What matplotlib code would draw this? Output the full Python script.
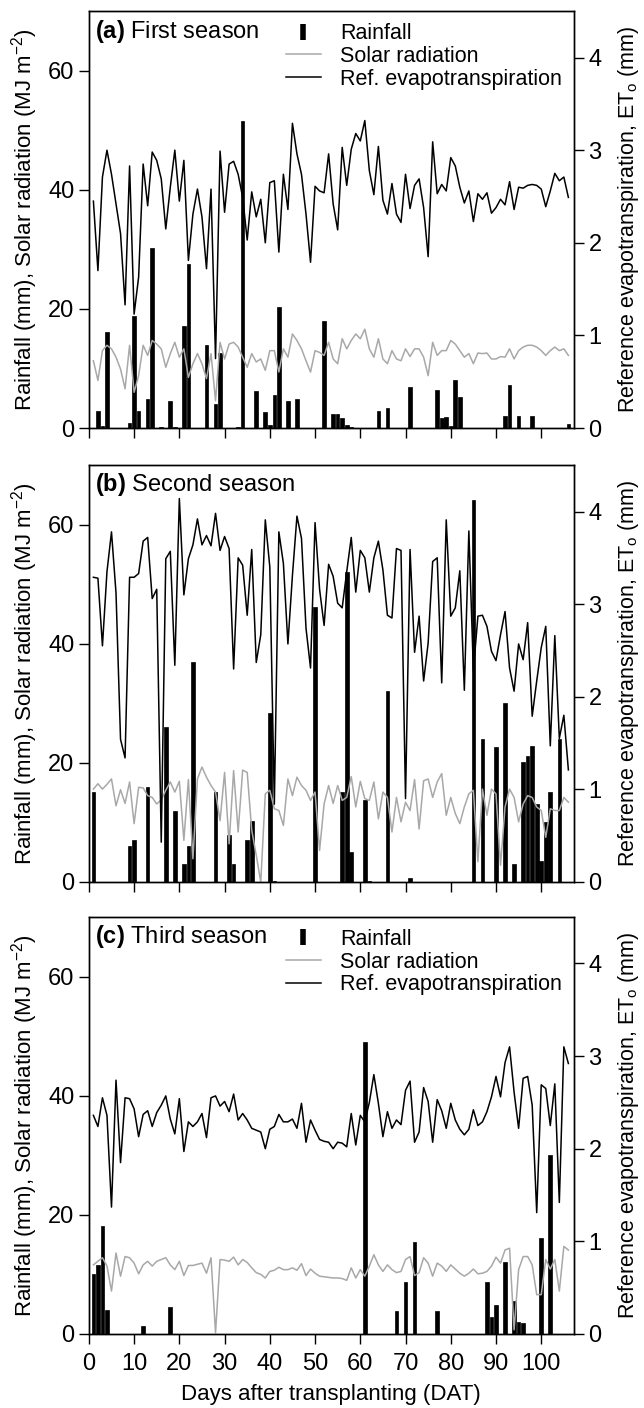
import matplotlib
matplotlib.use('Agg')
from matplotlib import pyplot as plt
from matplotlib.lines import Line2D
import numpy as np

plt.rcParams['font.family'] = ['Liberation Sans', 'DejaVu Sans']
plt.rcParams['mathtext.fontset'] = 'custom'
plt.rcParams['mathtext.rm'] = 'Liberation Sans'
plt.rcParams['mathtext.it'] = 'Liberation Sans:italic'
plt.rcParams['mathtext.bf'] = 'Liberation Sans:bold'

days = np.arange(1, 107)

# first season
et_a = [2.45, 1.70, 2.71, 3.00, 2.74, 2.42, 2.10, 1.33, 2.83, 1.23,
        1.63, 2.85, 2.40, 2.98, 2.89, 2.69, 2.15, 2.60, 3.00, 2.45,
        2.89, 1.81, 2.31, 2.58, 2.28, 1.72, 2.58, 0.75, 2.99, 2.33,
        2.85, 2.88, 2.74, 2.49, 2.03, 2.55, 2.28, 2.47, 2.00, 2.65,
        2.67, 1.90, 2.74, 2.36, 3.29, 2.96, 2.74, 2.31, 1.79, 2.61,
        2.56, 2.54, 2.96, 2.42, 2.14, 3.03, 2.62, 3.01, 3.18, 3.10,
        3.32, 2.78, 2.52, 3.04, 2.46, 2.31, 2.64, 2.31, 2.22, 2.74,
        2.37, 2.62, 2.69, 2.38, 1.85, 3.09, 2.53, 2.63, 2.56, 2.92,
        2.83, 2.60, 2.43, 2.56, 2.23, 2.53, 2.47, 2.54, 2.32, 2.38,
        2.47, 2.41, 2.66, 2.36, 2.60, 2.59, 2.62, 2.63, 2.62, 2.58,
        2.39, 2.56, 2.75, 2.67, 2.71, 2.49]
solar_a = [11.3, 8.0, 13.0, 13.9, 13.3, 11.9, 9.9, 6.6, 13.9, 6.0,
           8.8, 13.9, 12.2, 14.7, 14.1, 13.3, 10.2, 12.5, 14.4, 11.9,
           13.3, 8.5, 10.8, 12.5, 10.8, 8.3, 12.5, 4.6, 14.4, 11.6,
           14.1, 14.4, 13.6, 11.9, 10.2, 12.5, 11.1, 11.6, 9.7, 13.0,
           13.0, 9.4, 13.3, 11.9, 15.8, 14.7, 13.3, 11.3, 9.4, 13.0,
           12.7, 12.2, 14.4, 11.6, 10.8, 15.0, 13.3, 14.7, 15.8, 15.0,
           16.6, 13.3, 11.9, 15.0, 11.6, 10.8, 13.0, 11.6, 11.3, 13.3,
           12.0, 13.3, 13.3, 11.9, 8.8, 14.4, 12.2, 13.0, 13.0, 14.7,
           14.1, 13.0, 11.9, 12.5, 10.8, 12.6, 12.5, 12.6, 11.6, 11.6,
           12.0, 11.9, 13.3, 11.6, 13.0, 13.6, 13.9, 13.9, 13.6, 13.0,
           12.2, 13.0, 13.6, 13.0, 13.3, 12.2]
rain_a_days = [2, 3, 4, 9, 10, 11, 13, 14, 16, 18, 19, 21, 22, 26, 28, 29, 33, 34,
               37, 39, 40, 41, 42, 44, 46, 52, 54, 55, 56, 57, 58, 64, 66, 71,
               77, 78, 79, 80, 81, 82, 92, 93, 95, 98, 106]
rain_a = [2.8, 0.3, 16.1, 0.9, 18.9, 2.8, 4.9, 30.2, 0.2, 4.5, 0.2, 17.1, 27.5, 13.9,
          4.1, 12.6, 0.2, 51.5, 6.2, 2.7, 0.5, 5.5, 20.3, 4.5, 4.9, 17.9, 2.4, 2.4,
          1.7, 0.5, 0.2, 2.8, 3.4, 6.9, 6.4, 1.7, 1.8, 0.3, 8.0, 5.2, 2.1, 7.2, 2.0,
          2.0, 0.6]

# second season
et_b = [3.29, 3.28, 2.55, 3.35, 3.78, 3.12, 1.54, 1.34, 3.29, 3.29,
        3.33, 3.68, 3.72, 3.06, 3.16, 0.43, 3.49, 3.57, 2.34, 4.14,
        3.10, 3.49, 3.64, 3.92, 3.64, 3.74, 3.63, 3.98, 3.58, 3.73,
        3.60, 2.30, 3.50, 3.42, 2.88, 3.59, 2.37, 2.67, 3.91, 3.40,
        0.84, 3.78, 3.44, 2.57, 3.31, 3.95, 3.71, 2.74, 2.31, 3.88,
        3.16, 2.77, 3.43, 3.30, 3.01, 2.96, 3.35, 3.72, 3.13, 3.58,
        3.50, 3.13, 3.50, 3.68, 3.37, 2.88, 2.85, 3.60, 3.58, 0.90,
        3.59, 2.48, 2.87, 2.17, 2.58, 3.46, 3.50, 2.15, 3.91, 2.87,
        2.96, 3.36, 2.07, 3.79, 2.28, 2.87, 2.88, 2.76, 2.49, 2.39,
        2.67, 2.92, 2.31, 2.06, 2.57, 2.40, 2.80, 1.79, 2.17, 2.53,
        2.76, 1.47, 2.66, 1.55, 1.80, 1.21]
solar_b = [15.6, 16.5, 15.6, 16.4, 17.3, 12.8, 15.5, 13.2, 16.8, 9.8,
           15.9, 15.8, 14.5, 14.2, 13.1, 13.8, 15.4, 16.8, 15.1, 16.9,
           7.0, 17.2, 3.9, 17.3, 19.3, 17.6, 16.2, 15.1, 10.3, 18.4,
           6.4, 18.7, 8.4, 18.8, 18.4, 8.7, 4.5, 0.0, 14.8, 15.4,
           12.3, 12.0, 9.5, 17.3, 14.5, 17.6, 16.2, 15.4, 13.7, 15.1,
           5.3, 13.1, 16.2, 13.2, 16.2, 13.7, 14.2, 17.7, 12.6, 16.9,
           14.0, 13.7, 16.8, 10.6, 15.1, 14.2, 8.4, 14.2, 10.1, 13.4,
           12.0, 17.2, 8.9, 17.0, 17.3, 14.2, 16.8, 18.2, 11.2, 14.2,
           11.5, 9.8, 12.6, 14.8, 15.4, 3.4, 15.6, 11.2, 15.6, 14.8,
           2.8, 12.6, 15.6, 14.2, 10.1, 13.1, 14.5, 14.2, 12.6, 12.0,
           7.5, 12.3, 12.0, 12.0, 14.2, 13.4]
rain_b_days = [1, 9, 10, 13, 17, 19, 21, 22, 23, 28, 31, 32, 35, 36, 40, 41, 50, 56,
               57, 58, 61, 62, 66, 71, 85, 87, 90, 92, 94, 96, 97, 98, 99, 100,
               101, 102, 104]
rain_b = [15.1, 6.0, 7.0, 16.0, 26.1, 12.0, 3.0, 6.0, 37.0, 15.1, 7.9, 3.0, 7.0,
          10.3, 28.4, 0.2, 46.1, 15.1, 52.1, 5.0, 13.7, 0.2, 32.1, 0.7, 64.1, 24.0,
          22.6, 30.1, 3.0, 20.1, 21.1, 22.9, 13.1, 3.6, 10.1, 15.1, 24.0]

# third season
et_c = [2.36, 2.24, 2.55, 2.36, 1.37, 2.74, 1.85, 2.55, 2.54, 2.43,
        2.13, 2.37, 2.41, 2.24, 2.39, 2.47, 2.57, 2.32, 2.16, 2.54,
        1.97, 2.29, 2.24, 2.29, 2.38, 2.12, 2.55, 2.57, 2.46, 2.51,
        2.40, 2.59, 2.31, 2.38, 2.31, 2.22, 2.20, 2.18, 2.00, 2.21,
        2.24, 2.37, 2.29, 2.29, 2.32, 2.22, 2.49, 2.07, 2.31, 2.20,
        2.10, 2.08, 2.07, 2.00, 2.07, 2.06, 2.02, 2.38, 2.04, 2.36,
        2.29, 2.50, 2.80, 2.49, 2.13, 2.40, 2.22, 2.31, 2.26, 2.63,
        2.73, 2.07, 2.18, 2.66, 2.51, 2.07, 2.53, 2.41, 2.22, 2.49,
        2.31, 2.21, 2.15, 2.21, 2.42, 2.25, 2.29, 2.40, 2.56, 2.78,
        2.56, 2.93, 3.10, 2.61, 2.22, 2.76, 2.78, 2.47, 1.31, 2.69,
        2.65, 2.25, 2.70, 1.42, 3.10, 2.92]
solar_c = [11.6, 12.2, 12.8, 11.4, 7.2, 13.6, 9.7, 13.0, 12.8, 11.9,
           10.1, 11.6, 12.2, 11.4, 12.2, 12.5, 12.8, 11.6, 10.8, 12.2,
           9.8, 11.5, 11.5, 11.7, 11.9, 10.2, 12.8, 0.2, 12.5, 12.4,
           12.2, 12.9, 11.6, 12.5, 12.0, 11.1, 10.3, 10.0, 9.4, 10.5,
           10.7, 11.2, 10.8, 10.8, 11.1, 10.7, 11.8, 9.8, 10.9, 10.2,
           9.7, 9.6, 9.5, 9.4, 9.4, 9.3, 9.0, 11.1, 9.4, 10.8,
           9.7, 11.4, 13.3, 11.6, 10.5, 11.6, 10.8, 10.3, 10.5, 12.5,
           13.0, 9.8, 10.3, 12.8, 11.9, 9.7, 11.9, 11.4, 10.5, 11.6,
           10.9, 10.2, 9.7, 10.2, 10.9, 10.1, 10.2, 10.5, 11.4, 12.9,
           11.9, 14.1, 14.4, 0.7, 10.8, 13.0, 13.0, 11.6, 6.6, 6.6,
           12.5, 10.9, 12.5, 7.2, 14.7, 14.1]
rain_c_days = [1, 2, 3, 4, 12, 18, 61, 68, 70, 72, 77, 88, 89, 90, 92, 94, 95, 96,
               100, 102]
rain_c = [10.1, 11.5, 18.1, 4.0, 1.4, 4.5, 49.1, 3.9, 8.8, 15.5, 3.9, 8.8, 2.9, 4.9,
          12.0, 5.6, 2.0, 1.8, 16.1, 30.1]

panels = [('(a)', 'First season', et_a, solar_a, rain_a_days, rain_a, True),
          ('(b)', 'Second season', et_b, solar_b, rain_b_days, rain_b, False),
          ('(c)', 'Third season', et_c, solar_c, rain_c_days, rain_c, True)]
bottoms = [0.696, 0.3736, 0.0526]

fig = plt.figure(figsize=(6.44, 14.08), dpi=100)

for i, (tag, name, et, solar, rdays, rain, show_leg) in enumerate(panels):
    ax = fig.add_axes([0.138, bottoms[i], 0.753, 0.296])
    ax.bar(rdays, rain, width=0.8, color='black', edgecolor='black', linewidth=0.5)
    ax.plot(days, solar, color='#a8a8a8', lw=1.1)
    ax.set_xlim(0, 107.2)
    ax.set_ylim(0, 70)
    ax.set_yticks([0, 20, 40, 60])
    ax.set_xticks(np.arange(0, 101, 10))
    ax.tick_params(direction='out', length=7, width=1, labelsize=17)
    ax.tick_params(axis='x', pad=7)
    ax.set_ylabel('Rainfall (mm), Solar radiation (MJ m$^{-2}$)', fontsize=16)
    ax.yaxis.set_label_coords(-0.10, 0.5)
    if i < 2:
        ax.tick_params(axis='x', labelbottom=False)
    else:
        ax.set_xlabel('Days after transplanting (DAT)', fontsize=16, labelpad=6)

    ax2 = ax.twinx()
    ax2.plot(days, et, color='black', lw=1.1)
    ax2.set_ylim(0, 4.5)
    ax2.set_yticks([0, 1, 2, 3, 4])
    ax2.tick_params(direction='out', length=7, width=1, labelsize=17)
    ax2.set_ylabel('Reference evapotranspiration, ET$_{\\mathrm{o}}$ (mm)', fontsize=15.5)
    ax2.yaxis.set_label_coords(1.088, 0.5)
    for a in (ax, ax2):
        for s in a.spines.values():
            s.set_linewidth(1.0)

    ax2.text(0.012, 0.985, r'$\mathbf{' + tag + '}$ ' + name, transform=ax2.transAxes,
             ha='left', va='top', fontsize=17)

    if show_leg:
        handles = [Line2D([0], [0], marker='|', ls='none', color='black',
                          markersize=11, markeredgewidth=4),
                   Line2D([0], [0], color='#a8a8a8', lw=1.1),
                   Line2D([0], [0], color='black', lw=1.1)]
        labels = ['Rainfall', 'Solar radiation', 'Ref. evapotranspiration']
        ax2.legend(handles, labels, loc='upper right', frameon=False, fontsize=15.5,
                   labelspacing=0.08, handlelength=1.6, handletextpad=0.9,
                   borderaxespad=0.35, borderpad=0.2)

fig.savefig('out.png', dpi=100)
